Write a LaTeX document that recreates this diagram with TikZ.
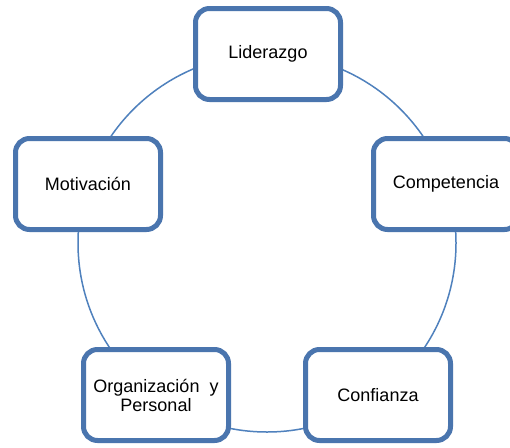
\documentclass[tikz,border=0pt]{standalone}
\usepackage{fontspec}
\setmainfont{Liberation Sans}
\definecolor{boxline}{HTML}{4A75AE}
\definecolor{ringline}{HTML}{4F81BD}
\begin{document}
\begin{tikzpicture}[x=1pt,y=-1pt,
  stage/.style={draw=boxline, line width=5pt, fill=white, rounded corners=14pt,
    minimum width=145pt, minimum height=91pt, align=center,
    font=\fontsize{18}{19}\selectfont, inner sep=2pt},
  ring/.style={draw=ringline, line width=1.5pt}]
  \useasboundingbox (0,0) rectangle (510,447);
  \clip (0,0) rectangle (510,447);
  \fill[white] (0,0) rectangle (510,447);
  % ring joining the five stages
  \coordinate (hub) at (267,243);
  \draw[ring] (hub) circle[radius=189pt];
  % stages
  \node[stage] (lid) at (268,54) {Liderazgo};
  \node[stage] (com) at (446,184) {Competencia};
  \node[stage] (con) at (378,395) {Confianza};
  \node[stage] (org) at (156,395) {Organización\ \ y\\Personal};
  \node[stage] (mot) at (88,184) {Motivación};
\end{tikzpicture}
\end{document}
